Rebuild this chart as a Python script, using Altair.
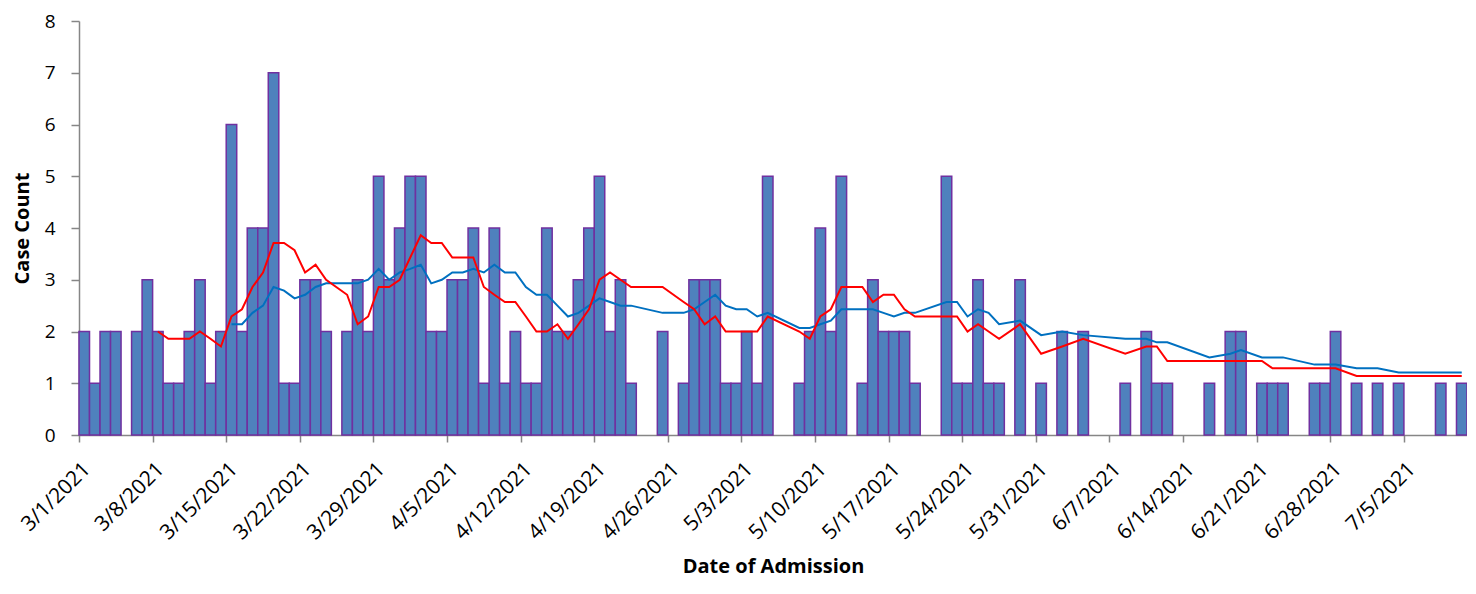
import altair as alt
import pandas as pd

# Daily case counts from 3/1/2021 (day 0) through 7/10/2021 (day 131)
case_counts = [
    2, 1, 2, 2, 0, 2, 3, 2, 1, 1,
    2, 3, 1, 2, 6, 2, 4, 4, 7, 1,
    1, 3, 3, 2, 0, 2, 3, 2, 5, 3,
    4, 5, 5, 2, 2, 3, 3, 4, 1, 4,
    1, 2, 1, 1, 4, 2, 2, 3, 4, 5,
    2, 3, 1, 0, 0, 2, 0, 1, 3, 3,
    3, 1, 1, 2, 1, 5, 0, 0, 1, 2,
    4, 2, 5, 0, 1, 3, 2, 2, 2, 1,
    0, 0, 5, 1, 1, 3, 1, 1, 0, 3,
    0, 1, 0, 2, 0, 2, 0, 0, 0, 1,
    0, 2, 1, 1, 0, 0, 0, 1, 0, 2,
    2, 0, 1, 1, 1, 0, 0, 1, 1, 2,
    0, 1, 0, 1, 0, 1, 0, 0, 0, 1,
    0, 1,
]

# Days (offset from 3/1/2021) at which the trend lines have vertices
trend_days = [
    7, 8, 9, 10, 11, 12, 13, 14, 15, 16, 17, 18, 19, 20, 21, 22, 23, 25, 26, 27,
    28, 29, 30, 31, 32, 33, 34, 35, 36, 37, 38, 39, 40, 41, 42, 43, 44, 45, 46, 47,
    48, 49, 50, 51, 52, 55, 57, 58, 59, 60, 61, 62, 63, 64, 65, 68, 69, 70, 71, 72,
    74, 75, 76, 77, 78, 79, 82, 83, 84, 85, 86, 87, 89, 91, 93, 95, 99, 101, 102, 103,
    107, 109, 110, 112, 113, 114, 117, 118, 119, 121, 123, 125, 129, 131,
]

# Red line (short moving average), one value per trend_days entry
red_line = [
    2.00, 1.86, 1.86, 1.86, 2.00, 1.86, 1.71, 2.29, 2.43, 2.86,
    3.14, 3.71, 3.71, 3.57, 3.14, 3.29, 3.00, 2.71, 2.14, 2.29,
    2.86, 2.86, 3.00, 3.43, 3.86, 3.71, 3.71, 3.43, 3.43, 3.43,
    2.86, 2.71, 2.57, 2.57, 2.29, 2.00, 2.00, 2.14, 1.86, 2.14,
    2.43, 3.00, 3.14, 3.00, 2.86, 2.86, 2.57, 2.43, 2.14, 2.29,
    2.00, 2.00, 2.00, 2.00, 2.29, 2.00, 1.86, 2.29, 2.43, 2.86,
    2.86, 2.57, 2.71, 2.71, 2.43, 2.29, 2.29, 2.29, 2.00, 2.14,
    2.00, 1.86, 2.14, 1.57, 1.71, 1.86, 1.57, 1.71, 1.71, 1.43,
    1.43, 1.43, 1.43, 1.43, 1.29, 1.29, 1.29, 1.29, 1.29, 1.14,
    1.14, 1.14, 1.14, 1.14,
]

# Blue line (long moving average), aligned with trend_days[7:]
blue_line = [
    2.14, 2.14, 2.36, 2.50, 2.86, 2.79, 2.64, 2.71, 2.86, 2.93,
    2.93, 2.93, 3.00, 3.21, 3.00, 3.14, 3.21, 3.29, 2.93, 3.00,
    3.14, 3.14, 3.21, 3.14, 3.29, 3.14, 3.14, 2.86, 2.71, 2.71,
    2.50, 2.29, 2.36, 2.50, 2.64, 2.57, 2.50, 2.50, 2.36, 2.36,
    2.43, 2.57, 2.71, 2.50, 2.43, 2.43, 2.29, 2.36, 2.07, 2.07,
    2.14, 2.21, 2.43, 2.43, 2.43, 2.36, 2.29, 2.36, 2.36, 2.57,
    2.57, 2.29, 2.43, 2.36, 2.14, 2.21, 1.93, 2.00, 1.93, 1.86,
    1.86, 1.79, 1.79, 1.50, 1.57, 1.64, 1.50, 1.50, 1.50, 1.36,
    1.36, 1.36, 1.29, 1.29, 1.21, 1.21, 1.21,
]

tick_days = [0, 7, 14, 21, 28, 35, 42, 49, 56, 63, 70, 77, 84, 91, 98, 105, 112, 119, 126]
tick_labels = [
    "3/1/2021", "3/8/2021", "3/15/2021", "3/22/2021", "3/29/2021", "4/5/2021",
    "4/12/2021", "4/19/2021", "4/26/2021", "5/3/2021", "5/10/2021", "5/17/2021",
    "5/24/2021", "5/31/2021", "6/7/2021", "6/14/2021", "6/21/2021", "6/28/2021",
    "7/5/2021",
]

bars_df = pd.DataFrame({"day": list(range(len(case_counts))), "count": case_counts})
bars_df["day_end"] = bars_df["day"] + 1
bars_df = bars_df[bars_df["count"] > 0]

red_df = pd.DataFrame({"x": [d + 0.5 for d in trend_days], "v": red_line})
blue_df = pd.DataFrame({"x": [d + 0.5 for d in trend_days[7:]], "v": blue_line})

label_expr = "[" + ",".join("'%s'" % t for t in tick_labels) + "][round(datum.value / 7)]"

x_scale = alt.Scale(domain=[0, 132], nice=False, zero=False)
y_scale = alt.Scale(domain=[0, 8], nice=False, zero=True)

x_axis = alt.Axis(
    values=tick_days,
    labelExpr=label_expr,
    labelAngle=-45,
    labelFontSize=21,
    labelPadding=16,
    labelOverlap=False,
    labelFlush=False,
    labelBound=False,
    tickSize=7,
    title="Date of Admission",
    titleFontSize=20,
    titleFontWeight="bold",
    titleY=137,
    titleBaseline="alphabetic",
)
y_axis = alt.Axis(
    values=list(range(9)),
    labelFontSize=19,
    labelPadding=16,
    tickSize=8,
    title="Case Count",
    titleFontSize=20,
    titleFontWeight="bold",
    titlePadding=12,
)

bars = alt.Chart(bars_df).mark_rect(
    color="#4F81BD", stroke="#7030A0", strokeWidth=1.5
).encode(
    x=alt.X("day:Q", scale=x_scale, axis=x_axis),
    x2="day_end:Q",
    y=alt.Y("count:Q", scale=y_scale, axis=y_axis),
    y2=alt.datum(0),
)

blue = alt.Chart(blue_df).mark_line(color="#0070C0", strokeWidth=2).encode(
    x=alt.X("x:Q", scale=x_scale),
    y=alt.Y("v:Q", scale=y_scale),
)

red = alt.Chart(red_df).mark_line(color="#FF0000", strokeWidth=2).encode(
    x=alt.X("x:Q", scale=x_scale),
    y=alt.Y("v:Q", scale=y_scale),
)

chart = alt.layer(bars, blue, red).properties(
    width=1388,
    height=414,
    padding={"left": 71, "top": 13, "right": 0, "bottom": 145},
    autosize=alt.AutoSizeParams(type="none"),
).configure_view(
    stroke=None
).configure_axis(
    grid=False,
    domainColor="#868686",
    tickColor="#868686",
    domainWidth=1.5,
    tickWidth=1.5,
    labelFont="Open Sans",
    titleFont="Open Sans",
    labelColor="#000000",
    titleColor="#000000",
)

chart.save("out.html", embed_options={"renderer": "svg", "actions": False})
